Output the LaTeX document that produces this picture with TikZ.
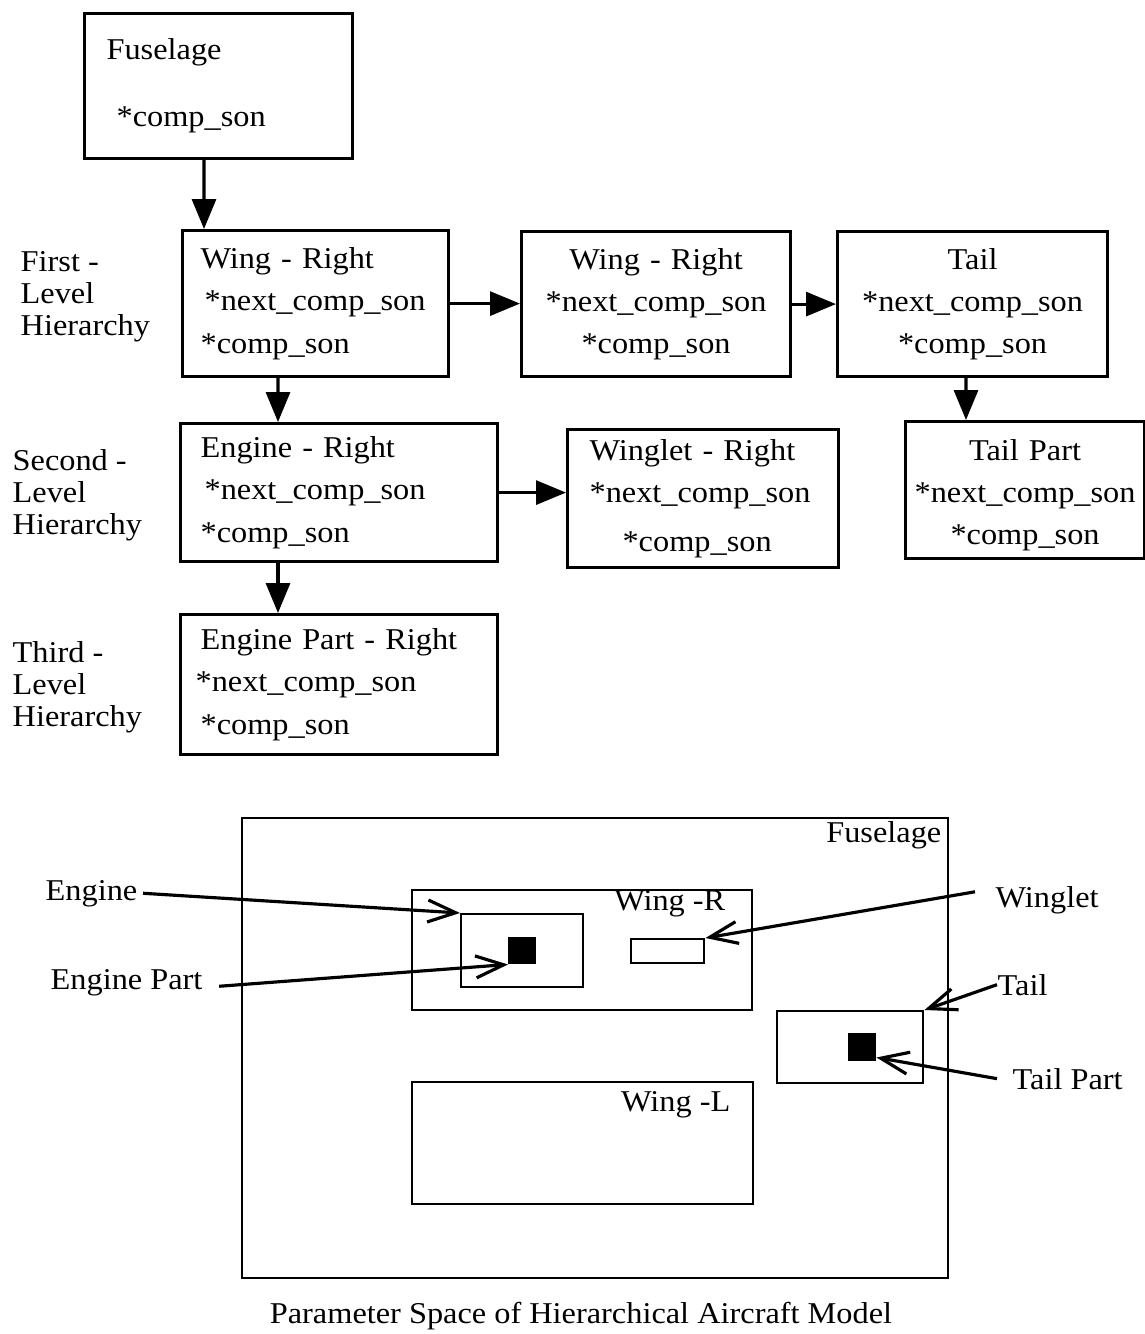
\documentclass[tikz,border=0pt]{standalone}
\usepackage{fontspec}
\setmainfont{Liberation Serif}[FakeStretch=1.07]
\usetikzlibrary{arrows.meta}
\newcommand{\boxfont}{\fontsize{8.6}{12}\selectfont}
\newcommand{\lvlfont}{\fontsize{8.6}{9.1}\selectfont}
\tikzset{
  comp/.style    = {draw, line width=0.9pt, anchor=north west, align=left,
                    inner xsep=2mm, inner ysep=0pt, font=\boxfont},
  compc/.style   = {comp, align=center},
  level/.style   = {anchor=north west, align=left, inner sep=0pt, font=\lvlfont},
  link/.style    = {-{Triangle[length=3mm,width=2.4mm]}, line width=0.9pt},
  region/.style  = {draw, line width=0.7pt, anchor=north west, inner sep=0pt},
  part/.style    = {region, fill=black},
  lbl/.style     = {inner sep=0pt, font=\boxfont},
  pointer/.style = {-{Straight Barb[length=2.8mm,width=2.2mm]}, line width=0.9pt},
}
\begin{document}
\begin{tikzpicture}[x=0.1mm, y=-0.1mm]
  \useasboundingbox (0,0) rectangle (1145,1334);
  % component records
  \node[comp, text width=22.4mm, minimum height=14.5mm, inner xsep=2.2mm] (fus) at (83,12) {Fuselage\\[7pt]\hspace*{1mm}*comp\_son};
  \node[comp, text width=23mm, minimum height=14.6mm, inner xsep=1.8mm] (wr1) at (181,229) {Wing - Right\\{}\hspace*{0.4mm}*next\_comp\_son\\{}*comp\_son};
  \node[compc, text width=22.9mm, minimum height=14.5mm] (wr2) at (520,230) {Wing - Right\\{}*next\_comp\_son\\{}*comp\_son\hspace*{1.8mm}};
  \node[compc, text width=23mm, minimum height=14.5mm] (tail) at (836,230) {Tail\\{}*next\_comp\_son\\{}*comp\_son\hspace*{2.5mm}};
  \node[comp, text width=27.7mm, minimum height=13.8mm] (er) at (179,422) {Engine - Right\\{}\hspace*{0.4mm}*next\_comp\_son\\{}*comp\_son};
  \node[comp, text width=22.7mm, minimum height=13.8mm, inner xsep=2.2mm] (wlr) at (566,428) {Winglet - Right\\{}*next\_comp\_son\\[2pt]\hspace*{3.3mm}*comp\_son};
  \node[compc, text width=22.9mm, minimum height=13.7mm, inner xsep=0.5mm] (tp) at (904,420) {\rule{0pt}{9pt}Tail Part\\{}*next\_comp\_son\\{}*comp\_son};
  \node[comp, text width=28.7mm, minimum height=14mm, inner xsep=1.5mm] (epr) at (179,613) {\hspace*{0.5mm}Engine Part - Right\\{}*next\_comp\_son\\{}\hspace*{0.5mm}*comp\_son};

  \node[level] (lv1) at (20,251) {First -\\Level\\Hierarchy};
  \node[level] (lv2) at (12,449) {Second -\\Level\\Hierarchy};
  \node[level] (lv3) at (12,641) {Third -\\Level\\Hierarchy};

  \draw[link] ([xshift=12.1mm]fus.south west) -- ([xshift=2.3mm]wr1.north west);
  \draw[link] (wr1.east) -- (wr1.east -| wr2.west);
  \draw[link] (wr2.east) -- (wr2.east -| tail.west);
  \draw[link] ([xshift=9.7mm]wr1.south west) -- ([xshift=9.9mm]er.north west);
  \draw[link] ([xshift=13mm]tail.south west) -- ([xshift=6.2mm]tp.north west);
  \draw[link] (er.east) -- (er.east -| wlr.west);
  \draw[link] ([xshift=9.9mm]er.south west) -- ([xshift=9.9mm]epr.north west);

  % parameter space
  \node[region, minimum width=70.6mm, minimum height=46mm] (fus2) at (241,817) {};
  \node[region, minimum width=34mm, minimum height=12mm] (wingr) at (411,889) {};
  \node[region, minimum width=12.2mm, minimum height=7.3mm] (eng) at (460,913) {};
  \node[part, minimum width=2.6mm, minimum height=2.5mm] (engp) at (508,937) {};
  \node[region, minimum width=7.3mm, minimum height=2.4mm] (wlet) at (630,938) {};
  \node[region, minimum width=14.6mm, minimum height=7.2mm] (tailr) at (776,1010) {};
  \node[part, minimum width=2.6mm, minimum height=2.6mm] (tailp) at (848,1033) {};
  \node[region, minimum width=34.1mm, minimum height=12.2mm] (wingl) at (411,1081) {};

  \node[lbl, anchor=base east] (fustxt) at (942,842) {Fuselage};
  \node[lbl, anchor=base east] (wrtxt) at (726,910) {Wing -R};
  \node[lbl, anchor=base east] (wltxt) at (731,1111) {Wing -L};

  \node[lbl, anchor=base west] (engtxt) at (45,900) {Engine};
  \node[lbl, anchor=base west] (eptxt) at (50,989) {Engine Part};
  \node[lbl, anchor=base west] (wgtxt) at (995,907) {Winglet};
  \node[lbl, anchor=base west] (tltxt) at (997,995) {Tail};
  \node[lbl, anchor=base west] (tptxt) at (1012,1089) {Tail Part};

  \draw[pointer] ([xshift=0.5mm]engtxt.east) -- (eng.north west);
  \draw[pointer] ([xshift=1.6mm,yshift=-0.4mm]eptxt.east) -- (engp.south west);
  \draw[pointer] ([xshift=-2mm,yshift=0.8mm]wgtxt.west) -- (wlet.north east);
  \draw[pointer] (tltxt.west) -- (tailr.north east);
  \draw[pointer] ([xshift=-1.5mm]tptxt.west) -- ([yshift=0.4mm]tailp.south east);

  \node[lbl] (cap) at (581,1316) {Parameter Space of Hierarchical Aircraft Model};
\end{tikzpicture}
\end{document}
